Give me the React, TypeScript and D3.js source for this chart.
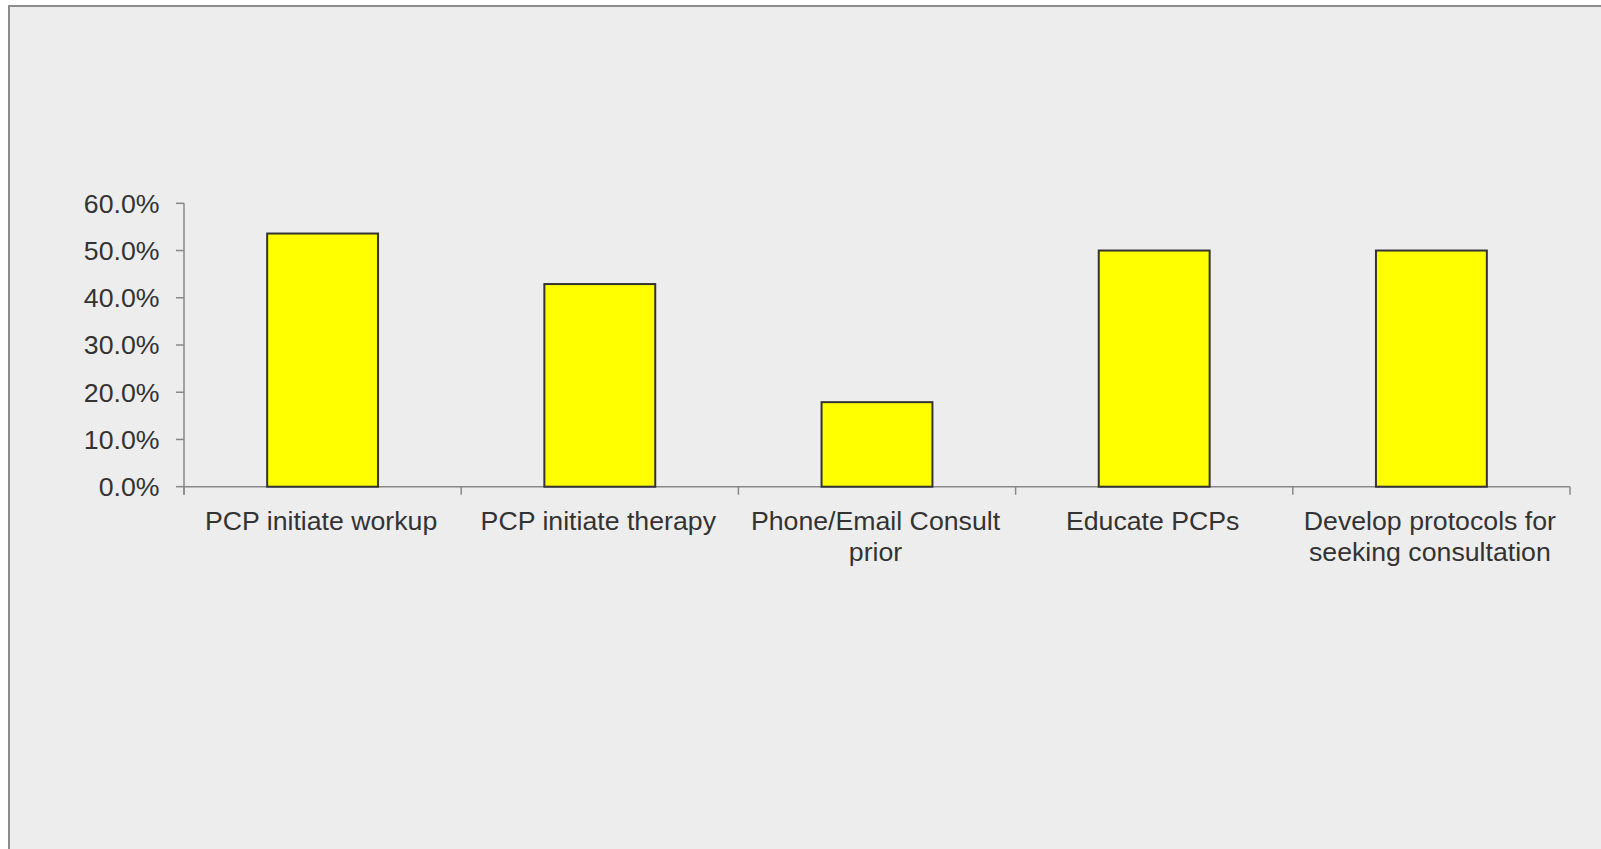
import React, { useEffect, useRef } from "react";
import * as d3 from "d3";

const categories = [
  "PCP initiate workup",
  "PCP initiate therapy",
  "Phone/Email Consult prior",
  "Educate PCPs",
  "Develop protocols for seeking consultation",
];
const values = [0.536, 0.429, 0.179, 0.5, 0.5];
const yTicks = [0, 0.1, 0.2, 0.3, 0.4, 0.5, 0.6];

const W = 1601;
const H = 849;
const FONT = "'Liberation Sans', Arial, sans-serif";
const FONT_SIZE = 26.7;

export default function App() {
  const ref = useRef<SVGSVGElement | null>(null);

  useEffect(() => {
    const svg = d3.select(ref.current);
    svg.selectAll("*").remove();

    // panel background and frame
    svg.append("rect").attr("x", 0).attr("y", 0).attr("width", W).attr("height", H).attr("fill", "#ffffff");
    svg
      .append("rect")
      .attr("x", 9)
      .attr("y", 6)
      .attr("width", W + 20)
      .attr("height", H + 20)
      .attr("fill", "#ededed")
      .attr("stroke", "#8c8c8c")
      .attr("stroke-width", 2);

    const x0 = 184, x1 = 1570, yBase = 486.7, yTop = 203.3;

    const x = d3.scaleBand<string>().domain(categories).range([x0, x1]).paddingInner(0.6).paddingOuter(0.3);
    const y = d3.scaleLinear().domain([0, 0.6]).range([yBase, yTop]);
    const step = x.step();

    // y axis
    const gy = svg.append("g");
    gy.append("line").attr("x1", x0).attr("x2", x0).attr("y1", yTop).attr("y2", yBase + 8)
      .attr("stroke", "#888").attr("stroke-width", 1.5);
    yTicks.forEach((t) => {
      gy.append("line").attr("x1", x0 - 8).attr("x2", x0).attr("y1", y(t)).attr("y2", y(t))
        .attr("stroke", "#888").attr("stroke-width", 1.5);
      gy.append("text")
        .attr("x", 159.5)
        .attr("y", y(t))
        .attr("dy", "0.35em")
        .attr("text-anchor", "end")
        .attr("font-family", FONT)
        .attr("font-size", FONT_SIZE)
        .attr("fill", "#333")
        .text(d3.format(".1%")(t));
    });

    // x axis
    const gx = svg.append("g");
    gx.append("line").attr("x1", x0).attr("x2", x1).attr("y1", yBase).attr("y2", yBase)
      .attr("stroke", "#888").attr("stroke-width", 1.5);
    d3.range(categories.length + 1).forEach((i) => {
      const xx = x0 + i * step;
      gx.append("line").attr("x1", xx).attr("x2", xx).attr("y1", yBase).attr("y2", yBase + 8)
        .attr("stroke", "#888").attr("stroke-width", 1.5);
    });

    // bars
    svg
      .append("g")
      .selectAll("rect")
      .data(categories)
      .join("rect")
      .attr("x", (d) => x(d)!)
      .attr("width", x.bandwidth())
      .attr("y", (_, i) => y(values[i]))
      .attr("height", (_, i) => yBase - y(values[i]))
      .attr("fill", "#ffff00")
      .attr("stroke", "#333")
      .attr("stroke-width", 2);

    // category labels, wrapped to the band width
    const maxW = step - 6;
    const baseY = 530;
    const lineH = 30.5;
    categories.forEach((c) => {
      const cx = x(c)! + x.bandwidth() / 2 - 1.5;
      const text = svg
        .append("text")
        .attr("x", cx)
        .attr("y", baseY)
        .attr("text-anchor", "middle")
        .attr("font-family", FONT)
        .attr("font-size", FONT_SIZE)
        .attr("fill", "#333");
      const words = c.split(" ");
      let line: string[] = [];
      let lineNo = 0;
      let tspan = text.append("tspan").attr("x", cx).attr("y", baseY);
      words.forEach((w) => {
        line.push(w);
        tspan.text(line.join(" "));
        if ((tspan.node() as SVGTextContentElement).getComputedTextLength() > maxW && line.length > 1) {
          line.pop();
          tspan.text(line.join(" "));
          line = [w];
          lineNo += 1;
          tspan = text.append("tspan").attr("x", cx).attr("y", baseY + lineNo * lineH).text(w);
        }
      });
    });
  }, []);

  return (
    <svg
      ref={ref}
      width={W}
      height={H}
      style={{ position: "absolute", left: 0, top: 0, display: "block" }}
    />
  );
}
